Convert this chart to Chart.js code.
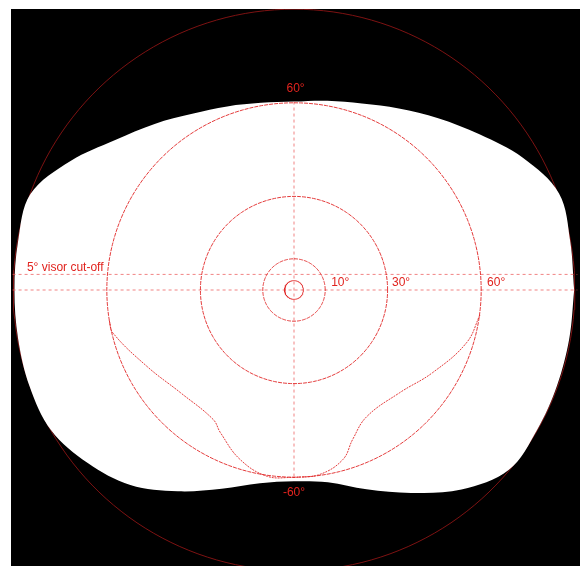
<!DOCTYPE html>
<html>
<head>
<meta charset="utf-8">
<script src="https://cdn.jsdelivr.net/npm/chart.js@4.4.1/dist/chart.umd.min.js"></script>
<style>
  html, body { margin: 0; padding: 0; background: #fff; }
  #wrap { width: 580px; height: 566px; }
</style>
</head>
<body>
<div id="wrap"><canvas id="fieldChart" width="580" height="566"></canvas></div>
<script>
// binocular field extent (degrees) along each meridian, 0 = right, counter-clockwise
const meridians   = [0, 10, 20, 30, 40, 50, 60, 70, 80, 90, 100, 110, 120, 130, 140, 150, 160, 170,
                     180, 190, 200, 210, 220, 230, 240, 250, 260, 270, 280, 290, 300, 310, 320, 330, 340, 350];
const fieldExtent = [89.8, 89.9, 90.4, 84.7, 77.6, 71.9, 67.2, 63.6, 61.6, 60.4, 60.9, 62.6, 65.2, 69.5, 74.8, 82.7, 89.9, 89.8,
                     89.6, 89.8, 90.2, 89.9, 86.3, 81.6, 74.5, 67.8, 62.9, 61.3, 62.6, 68.0, 75.1, 83.5, 89.8, 89.9, 89.7, 89.6];

// eccentricity rings (degrees)
const ringRadii = [3, 10, 30, 60];
const outerRing = 90;
const visorCutoff = 5;

// ring labels on the horizontal meridian
const ringLabels = ['10°', '30°', '60°'];
const ringLabelX = [11.9, 31.4, 61.9];

// nose / cheek contours (degrees)
const noseLeftX  = [-59.2, -58.1, -47.0, -36.4, -25.9, -23.6, -17.3, -8.6, 0];
const noseLeftY  = [-9.8, -13.7, -24.6, -32.9, -41.5, -45.7, -54.3, -59.7, -60.1];
const noseRightX = [59.6, 55.3, 44.4, 33.9, 23.3, 18.8, 15.7, 8.3, 0];
const noseRightY = [-8.0, -16.9, -26.5, -32.9, -40.6, -47.9, -54.3, -59.1, -60.1];

const RED = 'rgba(225, 40, 40, 0.9)';
const PINK = 'rgba(235, 90, 90, 0.75)';

function toRad(d) { return d * Math.PI / 180; }

function ringPoints(r) {
  const pts = [];
  for (let a = 0; a <= 360; a += 2) {
    pts.push({ x: r * Math.cos(toRad(a)), y: r * Math.sin(toRad(a)) });
  }
  return pts;
}

const fieldPoints = meridians.map((m, i) => ({
  x: fieldExtent[i] * Math.cos(toRad(m)),
  y: fieldExtent[i] * Math.sin(toRad(m))
}));
fieldPoints.push(fieldPoints[0]);

const lineSet = (data, color, dash, width) => ({
  data: data,
  showLine: true,
  borderColor: color,
  borderWidth: width || 1,
  borderDash: dash,
  pointRadius: 0,
  fill: false,
  tension: 0,
  order: 0
});

const datasets = [];
ringRadii.forEach(r => datasets.push(lineSet(ringPoints(r), RED, r === 3 ? [] : [4, 1])));
datasets.push(lineSet(noseLeftX.map((x, i) => ({ x: x, y: noseLeftY[i] })), RED, [2, 1]));
datasets.push(lineSet(noseRightX.map((x, i) => ({ x: x, y: noseRightY[i] })), RED, [2, 1]));
datasets[datasets.length - 1].tension = 0.4;
datasets[datasets.length - 2].tension = 0.4;
// crosshair + visor line
datasets.push(lineSet([{ x: 0, y: 60.4 }, { x: 0, y: -60 }], PINK, [3, 3]));
datasets.push(lineSet([{ x: -90.2, y: 0 }, { x: 90.8, y: 0 }], PINK, [3, 3]));
datasets.push(lineSet([{ x: -90.2, y: visorCutoff }, { x: 90.8, y: visorCutoff }], PINK, [3, 3]));
// white field
datasets.push({
  data: fieldPoints,
  showLine: true,
  borderWidth: 0,
  borderColor: '#fff',
  backgroundColor: '#fff',
  pointRadius: 0,
  fill: 'shape',
  tension: 0.35,
  order: 10
});
// outer 90° ring sits under the field
const outer = lineSet(ringPoints(outerRing), 'rgb(125, 18, 18)', [], 1);
outer.order = 20;
datasets.push(outer);

const fieldPlugin = {
  id: 'fieldPlugin',
  beforeDraw(chart) {
    const { ctx, chartArea } = chart;
    ctx.save();
    ctx.fillStyle = '#000';
    ctx.fillRect(chartArea.left, chartArea.top, chartArea.right - chartArea.left, chartArea.bottom - chartArea.top);
    ctx.restore();
  },
  afterDatasetsDraw(chart) {
    const { ctx } = chart;
    const xs = chart.scales.x, ys = chart.scales.y;
    ctx.save();
    ctx.font = '12px "Liberation Sans", Arial, sans-serif';
    ctx.fillStyle = 'rgb(225, 35, 30)';
    ctx.textBaseline = 'middle';
    ctx.textAlign = 'center';
    ctx.fillText('60°', xs.getPixelForValue(0.5), ys.getPixelForValue(64.4));
    ctx.fillText('-60°', xs.getPixelForValue(0), ys.getPixelForValue(-65.1));
    ctx.textAlign = 'left';
    ringLabels.forEach((t, i) => {
      ctx.fillText(t, xs.getPixelForValue(ringLabelX[i]), ys.getPixelForValue(2.2));
    });
    ctx.fillText(visorCutoff + '° visor cut-off', xs.getPixelForValue(-85.6), ys.getPixelForValue(7.1));
    ctx.restore();
  }
};

new Chart(document.getElementById('fieldChart'), {
  type: 'scatter',
  data: { datasets: datasets },
  plugins: [fieldPlugin],
  options: {
    responsive: false,
    animation: false,
    layout: { padding: { left: 11, top: 9, right: 0, bottom: 0 } },
    scales: {
      x: { type: 'linear', min: -90.71, max: 91.67, display: false },
      y: { type: 'linear', min: -88.46, max: 90.06, display: false }
    },
    plugins: { legend: { display: false }, tooltip: { enabled: false } }
  }
});
</script>
</body>
</html>
